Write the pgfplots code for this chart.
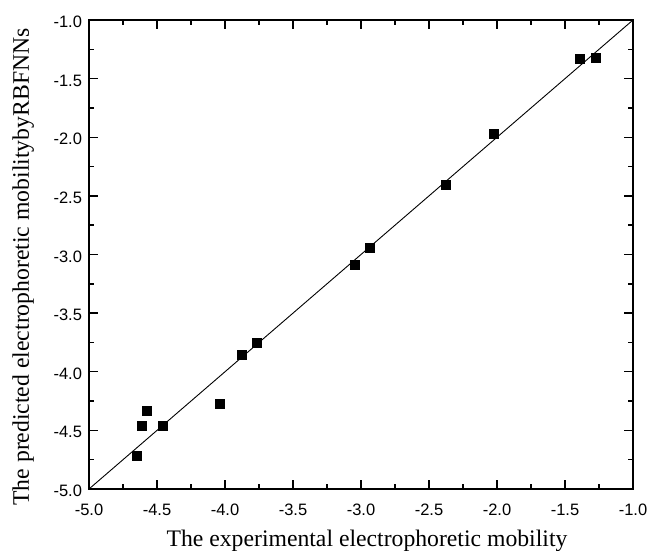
\documentclass[border=0pt]{standalone}
\usepackage{fontspec}
\setmainfont{Liberation Serif}
\newfontfamily\arial{Liberation Sans}
\usepackage{pgfplots}
\pgfplotsset{compat=1.18}
\begin{document}
\begin{tikzpicture}
\begin{axis}[
  name=main,
  scale only axis,
  width=544pt, height=469pt,
  xmin=-5, xmax=-1, ymin=-5, ymax=-1,
  xtick={-5,-4.5,...,-1}, ytick={-5,-4.5,...,-1},
  minor tick num=1,
  tick align=inside,
  major tick length=9pt, minor tick length=5pt,
  axis line style={line width=1.6pt},
  every tick/.style={line width=1.4pt, black},
  tick label style={font=\arial\fontsize{16.5}{18}\selectfont},
  xticklabel style={anchor=base, yshift=-26pt},
  yticklabel style={anchor=east, xshift=-3.5pt, yshift=-2pt},
  /pgf/number format/assume math mode=true,
  /pgf/number format/.cd, fixed, fixed zerofill, precision=1,
  /pgfplots/.cd,
  xlabel={The experimental electrophoretic mobility},
  ylabel={The predicted electrophoretic mobilitybyRBFNNs},
  every axis x label/.style={at={(axis description cs:0.5,0)}, anchor=base, yshift=-57pt, xshift=6pt, font=\fontsize{23.7}{25}\selectfont},
  every axis y label/.style={at={(axis description cs:0,0.5)}, rotate=90, anchor=base, yshift=60pt, xshift=-12.5pt, font=\fontsize{23.7}{25}\selectfont},
]
\addplot[black, line width=0.9pt] coordinates {(-5,-5) (-1,-1)};
\addplot[only marks, mark=square*, mark size=4.5pt, black] coordinates {
(-1.395,-1.332) (-1.272,-1.324) (-2.027,-1.971) (-2.38,-2.403)
(-2.939,-2.94) (-3.049,-3.084) (-3.765,-3.751) (-3.88,-3.853)
(-4.042,-4.271) (-4.461,-4.458) (-4.579,-4.328) (-4.615,-4.464)
(-4.647,-4.717)
};
\end{axis}
\pgfresetboundingbox
\useasboundingbox (main.south west) ++(-89pt,-61pt) rectangle ++(648pt,550pt);
\end{tikzpicture}
\end{document}
